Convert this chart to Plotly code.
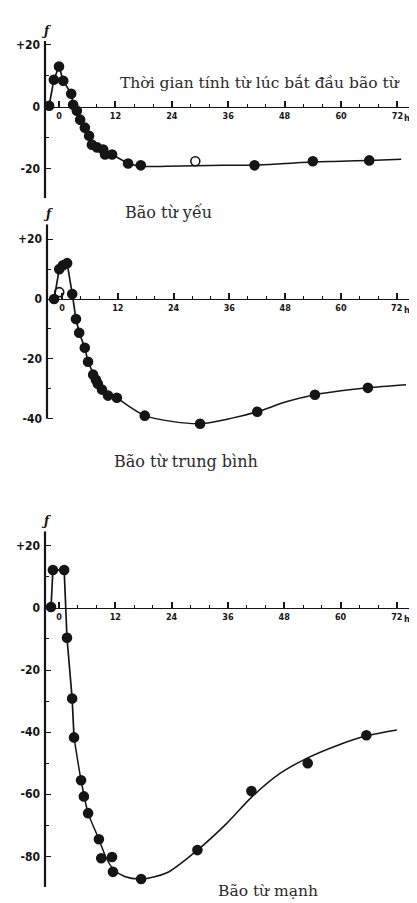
import plotly.graph_objects as go

# ---------------- data ----------------
# Weak storm (Bão từ yếu): measured points
weak_t = [-2.1, -1.1, 0.0, 0.9, 2.6, 3.0, 3.8, 4.5, 5.5, 6.4, 7.0, 8.1, 9.4, 9.8, 11.3, 14.7, 17.4, 29.0, 41.6, 54.0, 66.0]
weak_v = [0.3, 8.7, 13.0, 8.4, 4.2, 0.6, -1.3, -4.2, -6.8, -9.4, -12.3, -13.2, -13.9, -15.5, -15.5, -18.4, -19.0, -17.7, -19.0, -17.7, -17.4]
weak_sym = ["circle"] * 17 + ["circle-open"] + ["circle"] * 3
# drawn curve: polygonal head through the points, smooth tail
weak_head_t = [-2.1, -1.1, 0.0, 0.9, 2.6, 3.0, 3.8, 4.5, 5.5, 6.4, 7.0, 8.1, 9.4, 9.8, 11.3, 14.7]
weak_head_v = [0.3, 8.7, 13.0, 8.4, 4.2, 0.6, -1.3, -4.2, -6.8, -9.4, -12.3, -13.2, -13.9, -15.5, -15.5, -18.4]
weak_tail_t = [14.7, 17.4, 23.0, 29.0, 35.0, 41.6, 48.0, 54.0, 60.0, 66.0, 72.8]
weak_tail_v = [-18.4, -19.3, -19.3, -19.1, -19.0, -18.9, -18.4, -17.9, -17.7, -17.4, -17.0]

# Moderate storm (Bão từ trung bình)
mod_t = [-1.7, -0.6, -0.6, 0.2, 1.1, 2.2, 3.0, 3.7, 4.9, 5.6, 6.7, 7.3, 7.7, 8.6, 9.9, 11.8, 17.8, 29.7, 42.0, 54.4, 65.8]
mod_v = [0.0, 2.3, 10.0, 11.3, 12.0, 1.7, -6.7, -11.3, -16.3, -21.0, -25.3, -27.0, -28.3, -30.3, -32.3, -33.0, -39.0, -41.7, -37.7, -32.0, -29.7]
mod_sym = ["circle", "circle-open"] + ["circle"] * 19
mod_head_t = [-1.7, -0.6, 0.2, 1.1, 2.2, 3.0, 3.7, 4.9, 5.6, 6.7, 7.3, 7.7, 8.6, 9.9, 11.8]
mod_head_v = [0.0, 10.0, 11.3, 12.0, 1.7, -6.7, -11.3, -16.3, -21.0, -25.3, -27.0, -28.3, -30.3, -32.3, -33.0]
mod_tail_t = [11.8, 14.5, 17.8, 23.9, 29.7, 36.1, 42.0, 48.4, 54.4, 60.0, 65.8, 74.0]
mod_tail_v = [-33.0, -36.0, -39.0, -41.0, -41.7, -40.0, -37.7, -34.3, -32.0, -30.7, -29.7, -28.7]

# Strong storm (Bão từ mạnh)
str_t = [-1.7, -1.3, 1.1, 1.7, 2.8, 3.2, 4.7, 5.3, 6.2, 8.5, 9.0, 11.3, 11.5, 17.5, 29.5, 41.0, 53.0, 65.5]
str_v = [0.3, 12.2, 12.2, -9.6, -29.2, -41.7, -55.5, -60.7, -66.1, -74.5, -80.6, -80.2, -85.0, -87.3, -78.0, -59.0, -50.0, -41.0]
str_head_t = [-1.7, -1.3, 1.1, 1.7, 2.8, 3.2]
str_head_v = [0.3, 12.2, 12.2, -9.6, -29.2, -41.7]
str_tail_t = [3.2, 4.7, 6.2, 8.5, 10.0, 11.5, 14.0, 17.5, 23.0, 29.5, 35.8, 41.0, 47.1, 53.0, 59.3, 65.5, 72.0]
str_tail_v = [-41.7, -55.5, -66.0, -74.5, -80.3, -84.0, -86.5, -87.3, -85.3, -78.0, -69.3, -61.0, -53.3, -48.3, -44.3, -41.2, -39.3]

x_ticks = [0, 12, 24, 36, 48, 60, 72]
x_ticktext = ["0", "12", "24", "36", "48", "60", "72"]
x_unit = "h"

titles = ["Bão từ yếu", "Bão từ trung bình", "Bão từ mạnh"]
axis_title = "Thời gian tính từ lúc bắt đầu bão từ"

# page body keeps an 8px margin, so the figure sits 8px in from the top-left
OFF = 8
W, H = 417 - OFF, 903 - OFF
INK = "#151515"


def px2x(p):
    return (p - OFF) / W


def px2y(p):
    return 1 - (p - OFF) / H


fig = go.Figure()

panels = [
    dict(t=weak_t, v=weak_v, sym=weak_sym, ht=weak_head_t, hv=weak_head_v, tt=weak_tail_t, tv=weak_tail_v,
         xd=(45, 412), xr=(-2.98, 75.1), yd=(38, 196), yr=(-29.7, 21.3), zero=104,
         yt=[20, 0, -20], ytt=["+20", "0", "-20"], ytop=21.3, ybot=-29.7),
    dict(t=mod_t, v=mod_v, sym=mod_sym, ht=mod_head_t, hv=mod_head_v, tt=mod_tail_t, tv=mod_tail_v,
         xd=(47, 413), xr=(-3.23, 75.5), yd=(222, 426), yr=(-43, 25), zero=297,
         yt=[20, 0, -20, -40], ytt=["+20", "0", "-20", "-40"], ytop=25, ybot=-40),
    dict(t=str_t, v=str_v, sym=["circle"] * len(str_t), ht=str_head_t, hv=str_head_v, tt=str_tail_t, tv=str_tail_v,
         xd=(45, 410), xr=(-2.985, 74.8), yd=(530, 887), yr=(-89.9, 24.7), zero=607,
         yt=[20, 0, -20, -40, -60, -80], ytt=["+20", "0", "-20", "-40", "-60", "-80"], ytop=24.7, ybot=-89.9),
]

layout = dict(
    width=W, height=H,
    margin=dict(l=0, r=0, t=0, b=0),
    paper_bgcolor="white", plot_bgcolor="rgba(0,0,0,0)",
    showlegend=False,
    font=dict(family="DejaVu Sans Condensed, DejaVu Sans", color=INK),
)

shapes = []
annotations = []

for i, p in enumerate(panels, start=1):
    xa = "x" if i == 1 else f"x{i}"
    ya = "y" if i == 1 else f"y{i}"
    fig.add_trace(go.Scatter(
        x=p["ht"], y=p["hv"], mode="lines",
        line=dict(color=INK, width=1.7),
        xaxis=xa, yaxis=ya, hoverinfo="skip"))
    fig.add_trace(go.Scatter(
        x=p["tt"], y=p["tv"], mode="lines",
        line=dict(color=INK, width=1.5, shape="spline", smoothing=0.8),
        xaxis=xa, yaxis=ya, hoverinfo="skip"))
    fig.add_trace(go.Scatter(
        x=p["t"], y=p["v"], mode="markers", cliponaxis=False,
        marker=dict(color=INK, size=9, symbol=p["sym"], line=dict(color=INK, width=1.6)),
        xaxis=xa, yaxis=ya))

    xkey = "xaxis" if i == 1 else f"xaxis{i}"
    ykey = "yaxis" if i == 1 else f"yaxis{i}"
    layout[xkey] = dict(
        domain=[px2x(p["xd"][0]), px2x(p["xd"][1])], range=list(p["xr"]),
        anchor="free", position=px2y(p["zero"]),
        showgrid=False, zeroline=False, showline=True, linecolor=INK, linewidth=1.3,
        tickmode="array", tickvals=x_ticks, ticktext=x_ticktext,
        ticks="inside", ticklen=6, tickwidth=1.5, tickcolor=INK,
        minor=dict(dtick=4, tick0=0, ticks="inside", ticklen=3, tickwidth=1.3, tickcolor=INK),
        tickfont=dict(family="DejaVu Sans Condensed, DejaVu Sans", size=9, color=INK, weight="bold"),
        ticklabeloverflow="allow",
        fixedrange=True,
    )
    layout[ykey] = dict(
        domain=[px2y(p["yd"][1]), px2y(p["yd"][0])], range=list(p["yr"]),
        anchor="free", position=px2x(p["xd"][0]),
        showgrid=False, zeroline=False, showline=False,
        tickmode="array", tickvals=p["yt"], ticktext=p["ytt"],
        ticks="inside", ticklen=5, tickwidth=1.3, tickcolor=INK,
        minor=dict(dtick=10, tick0=0, ticks="inside", ticklen=3, tickwidth=1.2, tickcolor=INK),
        tickfont=dict(family="DejaVu Sans Condensed, DejaVu Sans", size=12, color=INK, weight="bold"),
        ticklabelstandoff=5,
        fixedrange=True,
    )
    # vertical axis line
    shapes.append(dict(type="line", xref=f"{xa} domain", yref=ya, x0=0, x1=0,
                       y0=p["ybot"], y1=p["ytop"], line=dict(color=INK, width=2.2)))
    # small curled end at the top of the vertical axis
    annotations.append(dict(text="<i>ƒ</i>", xref="paper", yref="paper",
                            x=px2x(p["xd"][0] + 1), y=px2y(p["yd"][0] - 1),
                            showarrow=False, xanchor="center", yanchor="bottom",
                            font=dict(family="DejaVu Serif", size=12, color=INK, weight="bold")))
    # unit "h" after the 72 tick label
    annotations.append(dict(text=x_unit, xref=xa, yref="paper",
                            x=x_ticks[-1], y=px2y(p["zero"] + 4),
                            xshift=10, showarrow=False, xanchor="center", yanchor="top",
                            font=dict(family="DejaVu Sans Condensed, DejaVu Sans", size=9,
                                      color=INK, weight="bold")))

serif = dict(family="DejaVu Serif, Liberation Serif", size=16, color="#2a2a2a")
annotations += [
    dict(text=axis_title, x=px2x(260), y=px2y(80), xref="paper", yref="paper",
         showarrow=False, font=dict(serif, size=15.5), xanchor="center", yanchor="middle"),
    dict(text=titles[0], x=px2x(168), y=px2y(210), xref="paper", yref="paper",
         showarrow=False, font=serif, xanchor="center", yanchor="middle"),
    dict(text=titles[1], x=px2x(186), y=px2y(460), xref="paper", yref="paper",
         showarrow=False, font=serif, xanchor="center", yanchor="middle"),
    dict(text=titles[2], x=px2x(268), y=px2y(891), xref="paper", yref="paper",
         showarrow=False, font=dict(serif, size=15.5), xanchor="center", yanchor="middle"),
]
layout["annotations"] = annotations
layout["shapes"] = shapes

fig.update_layout(**layout)
fig.write_html("out.html")
